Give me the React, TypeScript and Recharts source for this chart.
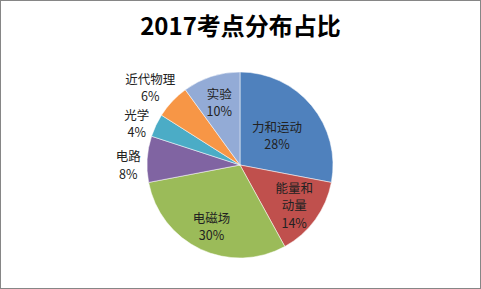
import React from 'react';
import { PieChart, Pie, Cell } from 'recharts';

const TOPICS = ['力和运动', '能量和动量', '电磁场', '电路', '光学', '近代物理', '实验'];
const SHARES = [28, 14, 30, 8, 4, 6, 10];
const COLORS = ['#4F81BD', '#C0504D', '#9BBB59', '#8064A2', '#4BACC6', '#F79646', '#93ABD6'];

const data = TOPICS.map((name, i) => ({ name, value: SHARES[i] }));

const RAD = Math.PI / 180;
const FONT = '"Noto Sans CJK SC", "Noto Sans", sans-serif';
const LINE = 17.5;
const CHAR_W = 12.5;

function wrap(name: string): string[] {
    if (name.length <= 4) return [name];
    return [name.slice(0, 3), name.slice(3)];
}

const renderLabel = (props: any) => {
    const { cx, cy, midAngle, outerRadius, percent, name } = props;
    const lines = [...wrap(name), `${Math.round(percent * 100)}%`];
    const cos = Math.cos(-midAngle * RAD);
    const sin = Math.sin(-midAngle * RAD);
    const hw = (Math.max(...lines.map((l) => l.length)) * CHAR_W) / 2;
    const hh = (lines.length * LINE) / 2;
    let x: number;
    let y: number;
    if (percent < 0.09) {
        // small slices: label sits just outside the rim, no leader line
        const dist = outerRadius + 6 + hw * Math.abs(cos) + 0.5 * hh * Math.abs(sin);
        x = cx + dist * cos;
        y = cy + dist * sin + 6;
    } else {
        // wide labels get pulled toward the centre so they stay inside the slice
        const dist = outerRadius * 0.72 - (hw > 20 ? 19 : 0);
        x = cx + dist * cos;
        y = cy + dist * sin;
    }
    const top = y - ((lines.length - 1) * LINE) / 2;
    return (
        <text x={x} y={top} textAnchor="middle" dominantBaseline="central" fill="#222" fontSize={12.5} fontFamily={FONT}>
            {lines.map((l, i) => (
                <tspan key={i} x={x} y={top + i * LINE} dominantBaseline="central">{l}</tspan>
            ))}
        </text>
    );
};

export default function App() {
    return (
        <div style={{ position: 'fixed', left: 0, top: 0, width: 481, height: 289, background: '#fff' }}>
            <div
                style={{
                    position: 'absolute', left: 0, top: 0, width: 481, height: 289,
                    border: '1px solid #868686', boxSizing: 'border-box',
                }}
            />
            <div
                style={{
                    position: 'absolute', left: 0, top: 10, width: 481, textAlign: 'center',
                    fontFamily: FONT, fontWeight: 'bold', fontSize: 24, lineHeight: '30px', color: '#000',
                }}
            >
                2017考点分布占比
            </div>
            <div style={{ position: 'absolute', left: 0, top: 0 }}>
                <PieChart width={481} height={289} margin={{ top: 0, right: 0, bottom: 0, left: 0 }}>
                    <Pie
                        data={data}
                        dataKey="value"
                        nameKey="name"
                        cx={240}
                        cy={165}
                        outerRadius={93}
                        startAngle={90}
                        endAngle={-270}
                        stroke="rgba(255,255,255,0.5)"
                        strokeWidth={1}
                        label={renderLabel}
                        labelLine={false}
                        isAnimationActive={false}
                    >
                        {data.map((d, i) => (
                            <Cell key={d.name} fill={COLORS[i]} />
                        ))}
                    </Pie>
                </PieChart>
            </div>
        </div>
    );
}
